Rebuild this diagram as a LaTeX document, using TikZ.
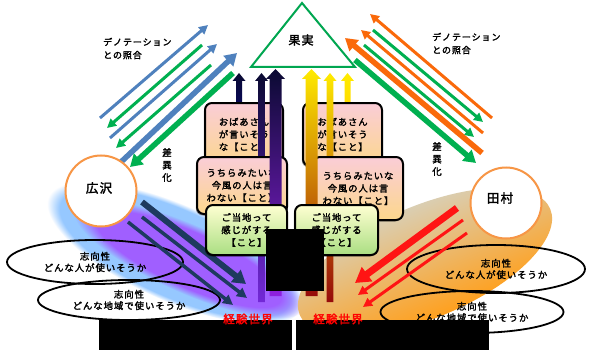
\documentclass[tikz,border=0pt]{standalone}
\usepackage{fontspec}
\setmainfont{Noto Sans CJK JP}[LetterSpace=10, FakeBold=2.2]
\usetikzlibrary{arrows.meta,shapes.geometric,shadows,fadings}
\definecolor{cblue}{RGB}{79,129,189}
\definecolor{cgreen}{RGB}{0,176,80}
\definecolor{corange}{RGB}{250,105,10}
\definecolor{cnavy}{RGB}{30,58,95}
\definecolor{cred}{RGB}{255,20,20}
\definecolor{ccircle}{RGB}{247,150,70}
\definecolor{ctri}{RGB}{0,166,80}
\definecolor{pinktop}{RGB}{250,205,215}
\definecolor{peachbot}{RGB}{252,215,140}
\definecolor{ylwtop}{RGB}{255,255,210}
\definecolor{grnbot}{RGB}{170,222,130}
\definecolor{navyA}{RGB}{10,10,50}
\definecolor{navyB}{RGB}{25,25,165}
\definecolor{purpC}{RGB}{115,40,215}
\definecolor{yelA}{RGB}{255,235,0}
\definecolor{oraB}{RGB}{255,125,0}
\definecolor{redC}{RGB}{150,10,10}
\definecolor{blbase}{RGB}{150,200,255}
\definecolor{blpurp}{RGB}{160,95,255}
\definecolor{brtop}{RGB}{218,206,178}
\definecolor{brmid}{RGB}{250,232,200}
\definecolor{brbot}{RGB}{255,160,30}
\newcommand{\blockarr}[7]{%
  \shade[#1] ({#2-#5},#4) -- ({#2-#5},{#3+#7}) -- ({#2-#6},{#3+#7}) -- (#2,#3) -- ({#2+#6},{#3+#7}) -- ({#2+#5},{#3+#7}) -- ({#2+#5},#4) -- cycle;}
\tikzset{
  thinar/.style={line width=3pt, -{Triangle[length=9pt,width=9pt]}},
  midar/.style={line width=3.5pt, -{Triangle[length=10pt,width=10pt]}},
  thickar/.style={line width=5.5pt, -{Triangle[length=12pt,width=14pt]}},
  jbox/.style={draw=black, line width=2pt, rounded corners=7pt, top color=pinktop, bottom color=peachbot,
    align=center, inner sep=0pt, font=\fontsize{9.3}{12.5}\selectfont,
    drop shadow={shadow xshift=-1.2pt, shadow yshift=-1.5pt, opacity=0.4, fill=black}},
  gbox/.style={jbox, top color=ylwtop, bottom color=grnbot},
  oval/.style={ellipse, draw=black, line width=1.8pt, inner sep=0pt, align=center,
    font=\fontsize{9.4}{11.5}\selectfont},
  circ/.style={circle, draw=ccircle, line width=2pt, fill=white, minimum size=71pt, inner sep=0pt},
  lbl/.style={font=\fontsize{9.5}{12.5}\selectfont, inner sep=0pt},
}
\begin{document}
\begin{tikzpicture}[x=1pt,y=-1pt]
\useasboundingbox (0,0) rectangle (589,361);
\fill[white] (0,0) rectangle (589,361);

% blobs
\begin{scope}[transform canvas={shift={(175,253)}, rotate=-24}]
  \fill[blbase, path fading=circle with fuzzy edge 10 percent] (0,0) ellipse [x radius=138pt, y radius=48pt];
  \fill[blpurp, path fading=circle with fuzzy edge 20 percent] (15,0) ellipse [x radius=125pt, y radius=34pt];
\end{scope}
\begin{scope}[transform canvas={shift={(425,262)}, rotate=23}]
  \shade[top color=brtop, middle color=brmid, bottom color=brbot] (0,0) ellipse [x radius=136pt, y radius=56pt];
\end{scope}

% triangle
\coordinate (tA) at (302,3);
\coordinate (tL) at (251,67);
\coordinate (tR) at (355,67);
\draw[ctri, line width=2pt, fill=white, line join=miter] (tA) -- (tL) -- (tR) -- cycle;
\node[font=\fontsize{12}{14}\selectfont] (fruit) at (301,40) {果実};

% left diagonal arrows
\coordinate (b1s) at (100,118); \coordinate (b1e) at (208,25);
\coordinate (g1s) at (202,45);  \coordinate (g1e) at (107,128);
\coordinate (b2s) at (110,138); \coordinate (b2e) at (217,44);
\coordinate (g2s) at (211,65);  \coordinate (g2e) at (116,148);
\coordinate (b3s) at (121,162); \coordinate (b3e) at (237,53);
\coordinate (g3s) at (233,73);  \coordinate (g3e) at (130,167);
\draw[thinar, cblue] (b1s) -- (b1e);
\draw[thinar, cgreen] (g1s) -- (g1e);
\draw[thinar, cblue] (b2s) -- (b2e);
\draw[thinar, cgreen] (g2s) -- (g2e);
\draw[thickar, cblue] (b3s) -- (b3e);
\draw[thickar, cgreen] (g3s) -- (g3e);

% right diagonal arrows
\coordinate (o1s) at (492,118); \coordinate (o1e) at (370,14);
\coordinate (r1s) at (373,30);  \coordinate (r1e) at (483,122);
\coordinate (o2s) at (483,133); \coordinate (o2e) at (361,30);
\coordinate (r2s) at (364,45);  \coordinate (r2e) at (474,137);
\coordinate (o3s) at (482,153); \coordinate (o3e) at (345,38);
\coordinate (r3s) at (355,60);  \coordinate (r3e) at (476,163);
\draw[thinar, corange] (o1s) -- (o1e);
\draw[thinar, cgreen] (r1s) -- (r1e);
\draw[thinar, corange] (o2s) -- (o2e);
\draw[thinar, cgreen] (r2s) -- (r2e);
\draw[thickar, corange] (o3s) -- (o3e);
\draw[thickar, cgreen] (r3s) -- (r3e);

% labels
\node[lbl, anchor=west, align=left, font=\fontsize{9}{13}\selectfont] (denL) at (103,48.5) {デノテーション\\との照合};
\node[lbl, anchor=west, align=left, font=\fontsize{9}{13}\selectfont] (denR) at (432,43.5) {デノテーション\\との照合};
\node[lbl, align=center] (saL) at (167,165) {差\\異\\化};
\node[lbl, align=center] (saR) at (437,159) {差\\異\\化};

% circles
\node[circ] (hiro) at (101,191) {};
\node[font=\fontsize{12.5}{14}\selectfont] (hirot) at (99,188) {広沢};
\node[circ] (tamu) at (506,203) {};
\node[font=\fontsize{12.5}{14}\selectfont] (tamut) at (500,198) {田村};

% ovals
\node[oval, minimum width=176pt, minimum height=44pt] (eL1) at (95,262) {志向性\\どんな人が使いそうか};
\node[oval, minimum width=182pt, minimum height=40pt] (eL2) at (129,300) {志向性\\どんな地域で使いそうか};
\node[oval, minimum width=178pt, minimum height=48pt] (eR1) at (496,269) {志向性\\どんな人が使いそうか};
\node[oval, minimum width=183pt, minimum height=42pt] (eR2) at (472,312) {志向性\\どんな地域で使いそうか};

% arrows inside blobs
\coordinate (n1s) at (142,202); \coordinate (n1e) at (246,284);
\coordinate (n2s) at (142,217); \coordinate (n2e) at (247,298);
\coordinate (n3s) at (128,222); \coordinate (n3e) at (233,305);
\draw[cnavy, line width=6pt, -{Triangle[length=13pt,width=15pt]}] (n1s) -- (n1e);
\draw[cnavy, midar] (n2s) -- (n2e);
\draw[cnavy, midar] (n3s) -- (n3e);
\coordinate (d1s) at (457,208); \coordinate (d1e) at (355,283);
\coordinate (d2s) at (463,220); \coordinate (d2e) at (358,295);
\coordinate (d3s) at (467,233); \coordinate (d3e) at (363,307);
\draw[cred, line width=7pt, -{Triangle[length=15pt,width=17pt]}] (d1s) -- (d1e);
\draw[cred, thinar] (d2s) -- (d2e);
\draw[cred, thinar] (d3s) -- (d3e);

% short vertical arrows
\blockarr{top color=navyA, bottom color=navyA!80!blue}{239}{73}{108}{3}{6.5}{8}
\blockarr{top color=yelA, bottom color=yelA!85!orange}{347.5}{73}{108}{3}{6.5}{8}

% first boxes
\node[jbox, minimum width=78pt, minimum height=63pt] (bL1) at (244,134.5) {おばあさん\\が言いそう\\な【こと】};
\node[jbox, minimum width=79pt, minimum height=63pt] (bR1) at (342.5,134.5) {おばあさん\\が言いそう\\な【こと】};

% thin long bars
\blockarr{top color=navyA, middle color=navyB, bottom color=purpC}{261.5}{73}{302}{3.3}{6.5}{8}
\blockarr{top color=yelA, middle color=oraB!60!yelA, bottom color=redC}{330}{73}{302}{3.3}{6.5}{8}

% second boxes
\node[jbox, minimum width=90pt, minimum height=57pt] (bL2) at (242,185.5) {うちらみたいな\\今風の人は言\\わない【こと】};
\node[jbox, minimum width=90pt, minimum height=63pt] (bR2) at (358,188.5) {うちらみたいな\\今風の人は言\\わない【こと】};

% thick long bars
\blockarr{top color=navyA, middle color=navyB, bottom color=purpC!80!magenta}{275.5}{69}{296}{6}{9.5}{10}
\blockarr{top color=yelA, middle color=oraB, bottom color=redC}{311.5}{69}{296}{6}{9.5}{10}

% third boxes
\node[gbox, minimum width=81pt, minimum height=50pt] (bL3) at (246.5,230) {ご当地って\\感じがする\\【こと】};
\node[gbox, minimum width=83pt, minimum height=50pt] (bR3) at (336.5,230) {ご当地って\\感じがする\\【こと】};

% black panels
\fill[black] (266,229) rectangle (324,291);
\fill[black] (99,320) rectangle (292,350);
\fill[black] (296,320) rectangle (489,350);

% experience world labels
\node[text=red, font=\fontsize{11.5}{13}\selectfont] (kL) at (248,319) {経験世界};
\node[text=red, font=\fontsize{11.5}{13}\selectfont] (kR) at (338,319) {経験世界};
\end{tikzpicture}
\end{document}
